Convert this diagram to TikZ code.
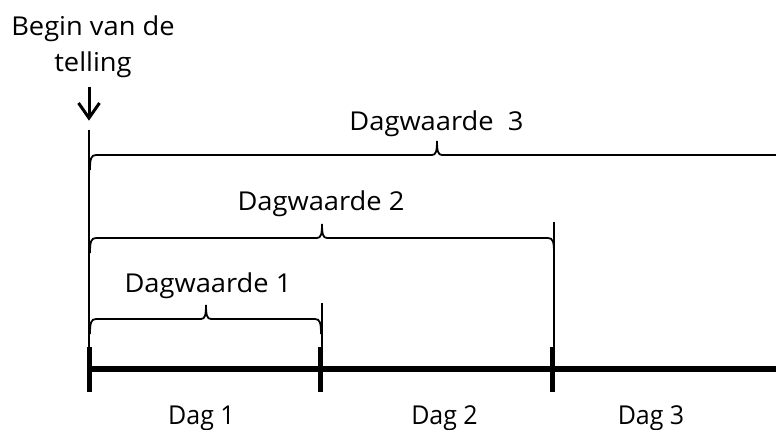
\documentclass[tikz,border=0pt]{standalone}
\usepackage{fontspec}
\setmainfont{Open Sans}
\newcommand\sx[1]{\scalebox{1.05}[1]{#1}}
\newcommand\sn[1]{\scalebox{0.96}[1]{#1}}
\begin{document}
\begin{tikzpicture}[x=1pt,y=-1pt,
  lbl/.style={font=\fontsize{26}{36}\selectfont, inner sep=0pt, anchor=base},
  thin/.style={line width=1.8pt},
  axis/.style={line width=5.5pt},
  tick/.style={line width=5pt},
  arr/.style={line width=3pt, line join=miter}]
\useasboundingbox (0,0) rectangle (776,430);

% labels
\node[lbl, anchor=north, align=center] (begin) at (93,16) {\sx{Begin van de}\\\sx{telling}};
\node[lbl] (dw3) at (436.5,131) {\sx{Dagwaarde\ \ 3}};
\node[lbl] (dw2) at (321,211) {\sx{Dagwaarde 2}};
\node[lbl] (dw1) at (208,293) {\sx{Dagwaarde 1}};
\node[lbl] (d1) at (201.5,424) {\sn{Dag 1}};
\node[lbl] (d2) at (444.5,424) {\sn{Dag 2}};
\node[lbl] (d3) at (651,424) {\sn{Dag 3}};

% arrow
\coordinate (atop) at (89,87);
\coordinate (atip) at (89,118);
\draw[arr] (atop) -- (atip);
\draw[arr] (78.5,103) -- (atip) -- (99.5,103);

% axis and ticks
\coordinate (ax0) at (89,369);
\coordinate (ax1) at (780,369);
\draw[axis] (ax0) -- (ax1);
\coordinate (t0a) at (89,347);  \coordinate (t0b) at (89,392);
\coordinate (t1a) at (320,347); \coordinate (t1b) at (320,392);
\coordinate (t2a) at (552,347); \coordinate (t2b) at (552,392);
\draw[tick] (t0a) -- (t0b);
\draw[tick] (t1a) -- (t1b);
\draw[tick] (t2a) -- (t2b);

% vertical thin lines
\coordinate (v0a) at (89,130);
\coordinate (v1a) at (322,303); \coordinate (v1b) at (322,347);
\coordinate (v2a) at (554,222); \coordinate (v2b) at (554,363);
\draw[thin] (v0a) -- (t0a);
\draw[thin] (v1a) -- (v1b);
\draw[thin] (v2a) -- (v2b);

% braces
\newcommand\bracepath[4]{% x0, x1, xm, y
  \draw[thin] (#1,#4+15) .. controls (#1,#4+4) and (#1+1,#4) .. (#1+6,#4)
    -- (#3-5,#4) .. controls (#3-1,#4) and (#3,#4-4) .. (#3,#4-14)
    .. controls (#3,#4-4) and (#3+1,#4) .. (#3+5,#4)
    -- (#2-6,#4) .. controls (#2-1,#4) and (#2,#4+4) .. (#2,#4+15);}
\bracepath{90}{321}{206}{319}
\bracepath{90}{554}{322}{238}
\bracepath{90}{800}{437}{155}
\end{tikzpicture}
\end{document}
